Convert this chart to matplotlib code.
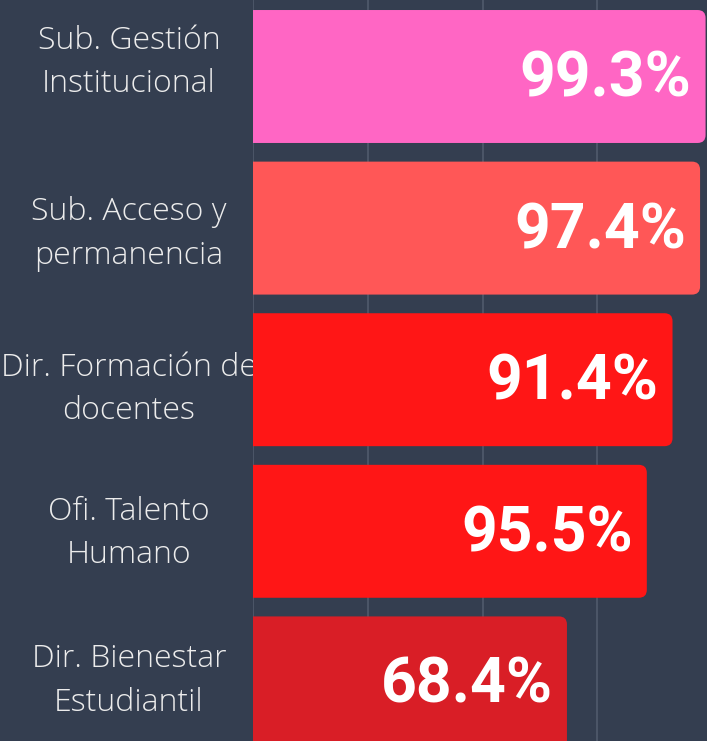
import matplotlib
matplotlib.use("Agg")
import matplotlib.pyplot as plt
from matplotlib.patches import FancyBboxPatch
from matplotlib.transforms import blended_transform_factory, ScaledTranslation

# data
categories = ["Sub. Gestión\nInstitucional", "Sub. Acceso y\npermanencia",
              "Dir. Formación de\ndocentes", "Ofi. Talento\nHumano",
              "Dir. Bienestar\nEstudiantil"]
bar_lengths = [98.6, 97.4, 91.4, 85.8, 68.4]
value_labels = ["99.3%", "97.4%", "91.4%", "95.5%", "68.4%"]
bar_colors = ["#ff66c4", "#ff5757", "#ff1616", "#ff1616", "#d91e26"]

BG = "#343e50"
GRID = "#4b5567"
W, H = 707, 741
px_per_unit = 4.59     # x scale
pitch = 151.6          # px between bar centres
bar_h = 0.877
label_nudge_px = [-14, 6, 10, 2, -2]   # small vertical offsets of the category labels

fig = plt.figure(figsize=(W / 100, H / 100), dpi=100, facecolor=BG)
x0_px = 253
ax = fig.add_axes([x0_px / W, 0, 1 - x0_px / W, 1])
ax.set_facecolor(BG)
ax.set_xlim(0, (W - x0_px) / px_per_unit)
ax.set_ylim((H - 76.5) / pitch, -76.5 / pitch)
for s in ax.spines.values():
    s.set_visible(False)
ax.set_xticks([0, 25, 50, 75])
ax.set_yticks([])
ax.tick_params(length=0, labelbottom=False)
ax.grid(axis="x", color=GRID, linewidth=1.5, zorder=0)
ax.set_axisbelow(True)

r = 8 / px_per_unit
aspect = (8 / pitch) / r
lbl_trans = blended_transform_factory(fig.transFigure, ax.transData)

for i, (cat, val, lab, col) in enumerate(zip(categories, bar_lengths, value_labels, bar_colors)):
    box = FancyBboxPatch((-5, i - bar_h / 2), val + 5, bar_h,
                         boxstyle=f"round,pad=0,rounding_size={r}",
                         mutation_aspect=aspect, facecolor=col,
                         edgecolor="none", zorder=2)
    ax.add_patch(box)
    off = ScaledTranslation(-14 / 100, -20 / 100, fig.dpi_scale_trans)
    ax.text(val, i, lab, ha="right", va="baseline", color="white",
            fontsize=45, fontweight="bold", family=["Roboto", "DejaVu Sans"],
            transform=ax.transData + off, zorder=3)
    noff = ScaledTranslation(0, -label_nudge_px[i] / 100, fig.dpi_scale_trans)
    ax.text(129 / W, i, cat, ha="center", va="center", multialignment="center",
            color="#ececec", fontsize=23, fontweight="light", linespacing=1.48,
            family=["Open Sans", "DejaVu Sans"], transform=lbl_trans + noff,
            zorder=1, clip_on=False)

fig.savefig("out.png", dpi=100, facecolor=BG)
